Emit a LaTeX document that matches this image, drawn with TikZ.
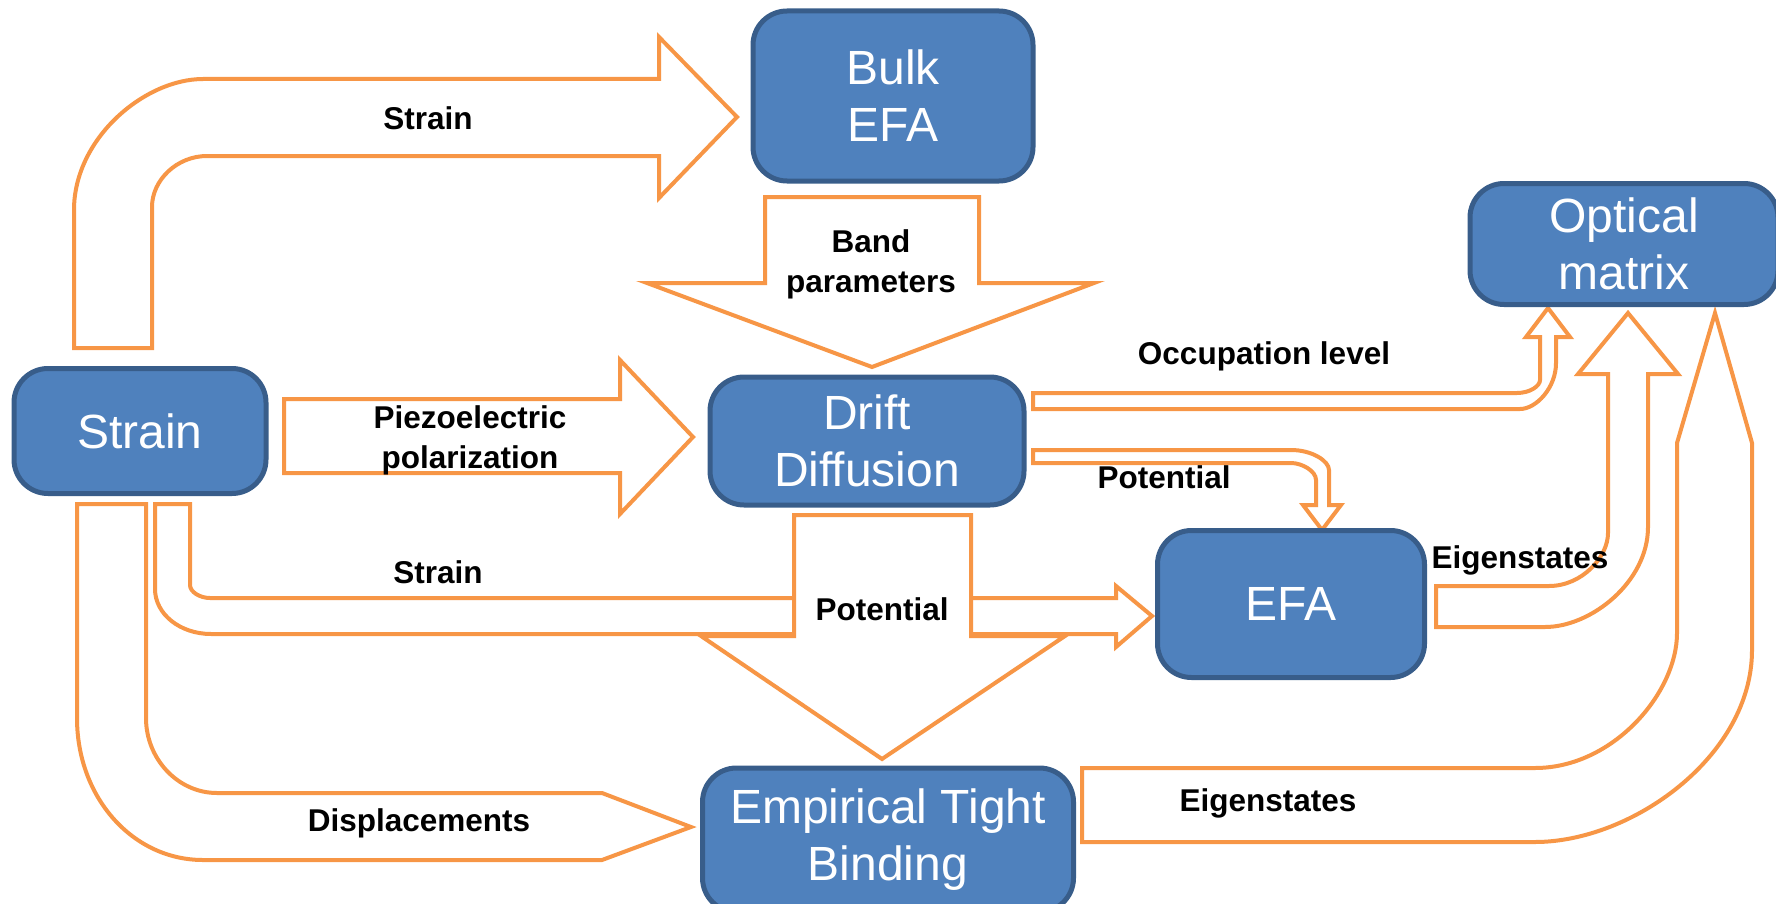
\documentclass[tikz,border=0pt]{standalone}
\usepackage{fontspec}
\setmainfont{Liberation Sans}

\tikzset{
    blockbox/.style={draw=boxBorder, fill=boxFill, line width=2.5pt, rounded corners=17pt,
        text=white, align=center, font=\fontsize{24}{28.5}\selectfont},
    flowarrow/.style={draw=arrowColour, fill=white, line width=2pt},
    flowlabel/.style={align=center, inner sep=1pt, font=\fontsize{15.75}{20}\selectfont\bfseries}
}

\begin{document}
\begin{tikzpicture}[x=0.5pt, y=-0.5pt]
    \definecolor{boxFill}{HTML}{4F81BD}
    \definecolor{boxBorder}{HTML}{385D8A}
    \definecolor{arrowColour}{HTML}{F79646}

    % Fix the page size
    \useasboundingbox (0,0) rectangle (1776,904);
    \clip (0,0) rectangle (1776,904);

    % Draw the strain arrow to bulk EFA
    \filldraw[flowarrow] (74,348) -- (74,210) .. controls (74,138) and (145,79) .. (203,79)
        -- (659,79) -- (659,37) -- (737,117) -- (659,198) -- (659,156) -- (207,156)
        .. controls (177,156) and (152,180) .. (152,207) -- (152,348) -- cycle;

    % Draw the band parameters arrow
    \filldraw[flowarrow] (765,197) -- (979,197) -- (979,283) -- (1094,283) -- (872,367)
        -- (647,283) -- (765,283) -- cycle;

    % Draw the piezoelectric arrow
    \filldraw[flowarrow] (284,399) -- (620,399) -- (620,360) -- (693,437) -- (620,514)
        -- (620,473) -- (284,473) -- cycle;

    % Draw the occupation level arrow
    \filldraw[flowarrow] (1033,393) -- (1517,393) .. controls (1530,393) and (1540,386) .. (1540,380)
        -- (1540,337) -- (1526,337) -- (1548,308) -- (1570,337) -- (1556,337) -- (1556,363)
        .. controls (1556,388) and (1536,409) .. (1520,409) -- (1033,409) -- cycle;

    % Draw the small potential arrow
    \filldraw[flowarrow] (1033,450) -- (1291,450) .. controls (1312,450) and (1329,461) .. (1329,470)
        -- (1329,505) -- (1341,505) -- (1322,530) -- (1303,505) -- (1316,505) -- (1316,480)
        .. controls (1316,471) and (1302,463) .. (1291,463) -- (1033,463) -- cycle;

    % Draw the strain arrow to EFA
    \filldraw[flowarrow] (155,504) -- (190,504) -- (190,585) .. controls (190,592) and (200,598) .. (210,598)
        -- (1116,598) -- (1116,586) -- (1152,616) -- (1116,647) -- (1116,634) -- (211,634)
        .. controls (180,634) and (155,614) .. (155,589) -- cycle;

    % Draw the displacements arrow
    \filldraw[flowarrow] (77,504) -- (146,504) -- (146,718) .. controls (146,759) and (178,793) .. (217,793)
        -- (602,793) -- (691,827) -- (602,860) -- (203,860)
        .. controls (133,860) and (77,798) .. (77,718) -- cycle;

    % Draw the eigenstates arrow from EFA
    \filldraw[flowarrow] (1436,586) -- (1549,586) .. controls (1582,586) and (1608,557) .. (1608,533)
        -- (1608,374) -- (1578,374) -- (1628,313) -- (1678,374) -- (1648,374) -- (1648,527)
        .. controls (1648,582) and (1591,627) .. (1545,627) -- (1436,627) -- cycle;

    % Draw the eigenstates arrow from tight binding
    \filldraw[flowarrow] (1082,768) -- (1535,768) .. controls (1613,768) and (1677,693) .. (1677,633)
        -- (1677,443) -- (1715,313) -- (1752,443) -- (1752,650)
        .. controls (1752,756) and (1632,842) .. (1535,842) -- (1082,842) -- cycle;

    % Draw the big potential arrow on top
    \filldraw[flowarrow] (794,515) -- (971,515) -- (971,636) -- (1065,636) -- (882,759)
        -- (701,636) -- (794,636) -- cycle;

    % Draw the blocks
    \node[blockbox, minimum width=140pt, minimum height=85pt] (bulk) at (893,96) {Bulk\\EFA};
    \node[blockbox, minimum width=154pt, minimum height=60.5pt] (optical) at (1624,244) {Optical\\matrix};
    \node[blockbox, minimum width=126pt, minimum height=62.5pt] (strain) at (140,431) {Strain};
    \node[blockbox, minimum width=157pt, minimum height=64pt] (drift) at (867,441) {Drift\\Diffusion};
    \node[blockbox, minimum width=133.5pt, minimum height=73.5pt] (efa) at (1291,604) {EFA};
    \node[blockbox, minimum width=185.5pt, minimum height=72pt] (etb) at (888,840) {Empirical Tight\\Binding};

    % Label the arrows
    \node[flowlabel] (lblStrainTop) at (428,118) {Strain};
    \node[flowlabel] (lblBand) at (871,264) {Band\\parameters};
    \node[flowlabel] (lblPiezo) at (470,440) {Piezoelectric\\polarization};
    \node[flowlabel] (lblOccupation) at (1264,356) {Occupation level};
    \node[flowlabel] (lblPotSmall) at (1164,477) {Potential};
    \node[flowlabel] (lblPotBig) at (882,609) {Potential};
    \node[flowlabel] (lblStrainMid) at (438,572) {Strain};
    \node[flowlabel] (lblDisp) at (419,823) {Displacements};
    \node[flowlabel] (lblEigenEfa) at (1520,560) {Eigenstates};
    \node[flowlabel] (lblEigenEtb) at (1268,803) {Eigenstates};

\end{tikzpicture}
\end{document}
